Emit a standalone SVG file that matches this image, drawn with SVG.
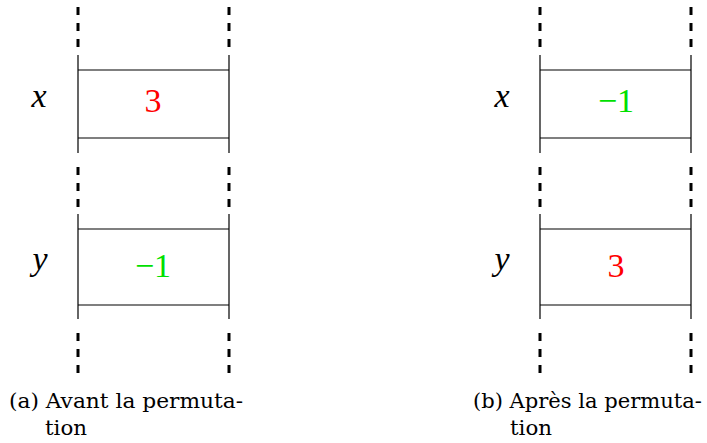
<svg xmlns="http://www.w3.org/2000/svg" width="707" height="443" viewBox="0 0 707 443">
<style>
.dash{stroke:#000;stroke-width:3;stroke-dasharray:8 8;fill:none}
.solid{stroke:#000;stroke-width:1.2;fill:none}
.var{font-family:"Liberation Serif",serif;font-style:italic;font-size:34px;fill:#000;text-anchor:middle}
.val{font-family:"Liberation Serif",serif;font-size:34px;text-anchor:middle}
.red{fill:#ff0000}
.green{fill:#00e000}
.cap{font-family:"DejaVu Serif",serif;font-size:21px;fill:#000}
</style>
<rect width="707" height="443" fill="#fff"/>
<g id="connectors">
  <line class="dash" x1="78" y1="7" x2="78" y2="47"/>
  <line class="dash" x1="229" y1="7" x2="229" y2="47"/>
  <line class="dash" x1="78" y1="167" x2="78" y2="207"/>
  <line class="dash" x1="229" y1="167" x2="229" y2="207"/>
  <line class="dash" x1="78" y1="333" x2="78" y2="373"/>
  <line class="dash" x1="229" y1="333" x2="229" y2="373"/>
  <line class="dash" x1="540" y1="7" x2="540" y2="47"/>
  <line class="dash" x1="691" y1="7" x2="691" y2="47"/>
  <line class="dash" x1="540" y1="167" x2="540" y2="207"/>
  <line class="dash" x1="691" y1="167" x2="691" y2="207"/>
  <line class="dash" x1="540" y1="333" x2="540" y2="373"/>
  <line class="dash" x1="691" y1="333" x2="691" y2="373"/>
</g>
<g id="a-x">
  <path class="solid" d="M78 55V153M229 55V153M78 70H229M78 138H229"/>
  <text class="var" x="39" y="107">x</text>
  <text class="val red" x="153" y="112">3</text>
</g>
<g id="a-y">
  <path class="solid" d="M78 214V319M229 214V319M78 229H229M78 305H229"/>
  <text class="var" x="40" y="270">y</text>
  <text class="val green" x="153" y="277">−1</text>
</g>
<g id="b-x">
  <path class="solid" d="M540 55V153M691 55V153M540 70H691M540 138H691"/>
  <text class="var" x="502" y="107">x</text>
  <text class="val green" x="616" y="112">−1</text>
</g>
<g id="b-y">
  <path class="solid" d="M540 214V319M691 214V319M540 229H691M540 305H691"/>
  <text class="var" x="502" y="270">y</text>
  <text class="val red" x="616" y="277">3</text>
</g>
<g id="captions">
  <text class="cap" x="9" y="408" textLength="234" lengthAdjust="spacingAndGlyphs">(a) Avant la permuta-</text>
  <text class="cap" x="45" y="435" textLength="42" lengthAdjust="spacingAndGlyphs">tion</text>
  <text class="cap" x="473" y="408" textLength="229" lengthAdjust="spacingAndGlyphs">(b) Après la permuta-</text>
  <text class="cap" x="510" y="435" textLength="42" lengthAdjust="spacingAndGlyphs">tion</text>
</g>
</svg>
